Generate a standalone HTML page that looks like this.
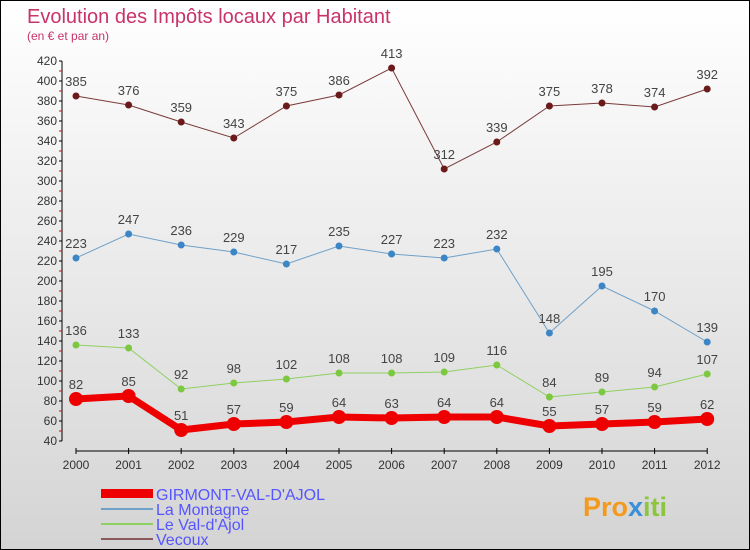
<!DOCTYPE html>
<html><head><meta charset="utf-8"><style>
body{margin:0}
#c{position:relative;width:748px;height:548px;border:1px solid #000;background:linear-gradient(#fff,#d4d4d4);font-family:"Liberation Sans",sans-serif;overflow:hidden}
svg text{font-family:"Liberation Sans",sans-serif}
</style></head><body>
<div id="c">
<svg id="s" width="748" height="548" xmlns="http://www.w3.org/2000/svg">
<text x="26" y="22" font-size="20" fill="#c8336a">Evolution des Impôts locaux par Habitant</text>
<text x="26" y="39" font-size="12" fill="#c8336a">(en € et par an)</text>
<g id="axes"></g><g id="series"></g>
<g>
<rect x="100" y="488" width="52" height="9" fill="#e00"/>
<text x="155" y="499" font-size="16" fill="#55f">GIRMONT-VAL-D'AJOL</text>
<line x1="100" x2="152" y1="508" y2="508" stroke="#6fa0c8" stroke-width="2"/>
<text x="155" y="514" font-size="16" fill="#55f">La Montagne</text>
<line x1="100" x2="152" y1="523" y2="523" stroke="#8fd060" stroke-width="2"/>
<text x="155" y="529" font-size="16" fill="#55f">Le Val-d'Ajol</text>
<line x1="100" x2="152" y1="538" y2="538" stroke="#8a5a5a" stroke-width="2"/>
<text x="155" y="544" font-size="16" fill="#55f">Vecoux</text>
</g>
<text x="582" y="515" font-size="27" font-weight="bold" fill="#f39a1e">Pro<tspan fill="#3a8fd8">x</tspan><tspan fill="#8cc63f">iti</tspan></text>
</svg></div>
<script>
const years=[2000,2001,2002,2003,2004,2005,2006,2007,2008,2009,2010,2011,2012];
const girmont=[82,85,51,57,59,64,63,64,64,55,57,59,62];
const montagne=[223,247,236,229,217,235,227,223,232,148,195,170,139];
const valdajol=[136,133,92,98,102,108,108,109,116,84,89,94,107];
const vecoux=[385,376,359,343,375,386,413,312,339,375,378,374,392];
const yTicks=[40,60,80,100,120,140,160,180,200,220,240,260,280,300,320,340,360,380,400,420];
const NS="http://www.w3.org/2000/svg";
const X=i=>75+i*52.6, Y=v=>480-v;
function mk(t,a,p){const e=document.createElementNS(NS,t);for(const k in a)e.setAttribute(k,a[k]);p.appendChild(e);return e;}
const ax=document.getElementById('axes'),sg=document.getElementById('series');
const ya=mk('line',{x1:61,x2:61,y1:Y(420),y2:Y(40),stroke:'#000'},ax);


yTicks.forEach((v,k)=>{
 mk('line',{x1:58,x2:61,y1:Y(v),y2:Y(v),stroke:'#000'},ax);
 if(k<yTicks.length-1) mk('line',{x1:58,x2:61,y1:Y(v)-10,y2:Y(v)-10,stroke:'#e00'},ax);
 const t=mk('text',{x:56,y:Y(v)+4,'font-size':12,fill:'#333','text-anchor':'end'},ax);t.textContent=v;
 
 
});
const xa=mk('line',{x1:X(0),x2:X(12),y1:450,y2:450,stroke:'#000'},ax);


years.forEach((y,i)=>{
 mk('line',{x1:X(i),x2:X(i),y1:447,y2:453,stroke:'#000'},ax);
 const t=mk('text',{x:X(i),y:468,'font-size':12,fill:'#333','text-anchor':'middle'},ax);t.textContent=y;
 
 
});
function series(name,d,col,w,r,dot){
 const g=mk('g',{},sg);
 
 
 mk('polyline',{points:d.map((v,i)=>X(i)+','+Y(v)).join(' '),fill:'none',stroke:col,'stroke-width':w},g);
 d.forEach((v,i)=>{
  const c=mk('circle',{cx:X(i),cy:Y(v),r:r,fill:dot},g);
  
  
  const t=mk('text',{x:X(i),y:Y(v)-10,'font-size':13,fill:'#444','text-anchor':'middle'},g);t.textContent=v;
  
  
 });
}
series('vecoux',vecoux,'#7a3a3a',1,3.5,'#6b1a1a');
series('montagne',montagne,'#6fa0c8',1,3.5,'#3d86c6');
series('valdajol',valdajol,'#8fd060',1,3.5,'#7cc840');
series('girmont',girmont,'#e00',7,7,'#e00');
</script>
</body></html>
